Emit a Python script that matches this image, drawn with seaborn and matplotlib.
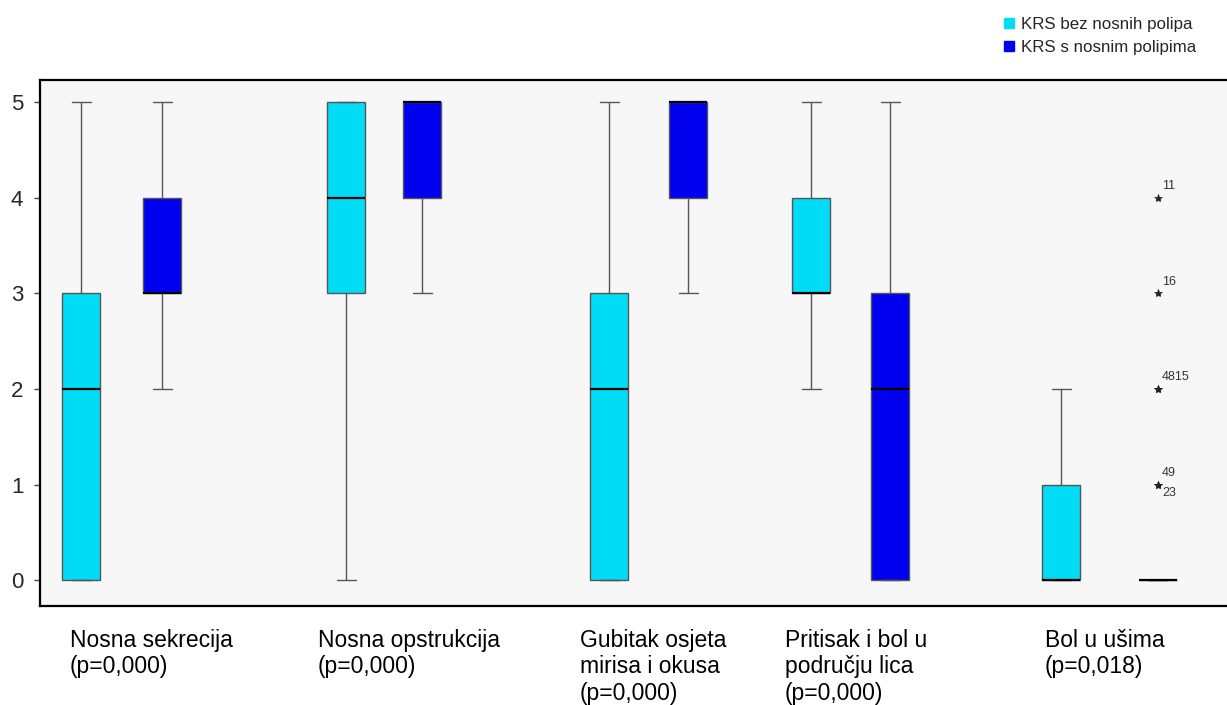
import numpy as np
import pandas as pd
import matplotlib
matplotlib.use("Agg")
import matplotlib.pyplot as plt
import matplotlib.transforms as mtransforms
from matplotlib.lines import Line2D
import seaborn as sns

# ---------------- data ----------------
categories = ["Nosna sekrecija\n(p=0,000)",
              "Nosna opstrukcija\n(p=0,000)",
              "Gubitak osjeta\nmirisa i okusa\n(p=0,000)",
              "Pritisak i bol u\npodručju lica\n(p=0,000)",
              "Bol u ušima\n(p=0,018)"]
groups = ["KRS bez nosnih polipa", "KRS s nosnim polipima"]

sekrecija_bez = [0, 0, 2, 3, 5]
sekrecija_s = [2, 3, 3, 4, 5]
opstrukcija_bez = [0, 3, 4, 5, 5]
opstrukcija_s = [3, 4, 5, 5, 5]
gubitak_bez = [0, 0, 2, 3, 5]
gubitak_s = [3, 4, 5, 5, 5]
pritisak_bez = [2, 3, 3, 4, 5]
pritisak_s = [0, 0, 2, 3, 5]
bol_bez = [0, 0, 0, 1, 2]
bol_s = [0, 0, 0, 0, 0, 0, 0, 0, 0, 0, 0, 0, 0, 0, 0, 0, 0, 0, 0, 0,
         1, 1, 2, 2, 3, 4]
outlier_values = [4, 3, 2, 1]
outlier_labels = ["11", "16", "4815", "49\n23"]
yticks = [0, 1, 2, 3, 4, 5]

series = [(sekrecija_bez, sekrecija_s), (opstrukcija_bez, opstrukcija_s),
          (gubitak_bez, gubitak_s), (pritisak_bez, pritisak_s), (bol_bez, bol_s)]

# ---------------- layout (pixel-like x scale) ----------------
box_pos = [[81, 162], [346, 422], [609, 688], [811, 890], [1061, 1158]]
label_x = [70, 318, 580, 785, 1045]
colors = {groups[0]: "#00DCF6", groups[1]: "#0000EE"}

rows = []
for (b, s), (pb, ps) in zip(series, box_pos):
    for v in b:
        rows.append({"pos": pb, "group": groups[0], "value": v})
    for v in s:
        rows.append({"pos": ps, "group": groups[1], "value": v})
df = pd.DataFrame(rows)

sns.set_style("ticks")
plt.rcParams['font.family'] = ['Liberation Sans', 'DejaVu Sans']

W, H = 1227, 705
fig = plt.figure(figsize=(W / 100, H / 100), dpi=100)
ax = fig.add_axes([40 / W, 1 - 606 / H, (1232 - 40) / W, (606 - 80) / H])
ax.set_facecolor("#F7F7F7")

sns.boxplot(data=df, x="pos", y="value", hue="group", native_scale=True,
            dodge=False, width=0.5, palette=colors, saturation=1,
            linecolor="#555555", linewidth=1.0, whis=1.5, legend=False,
            medianprops={"color": "black", "linewidth": 1.6},
            flierprops={"marker": "*", "markersize": 6,
                        "markerfacecolor": "#222222", "markeredgecolor": "#222222",
                        "markeredgewidth": 0.5},
            ax=ax)

# outlier labels
fx = box_pos[4][1]
for v, lab in zip(outlier_values, outlier_labels):
    if "\n" in lab:
        top, bot = lab.split("\n")
        ax.annotate(top, (fx, v), xytext=(3, 4), textcoords="offset points",
                    fontsize=9, color="#333333", ha="left", va="bottom")
        ax.annotate(bot, (fx, v), xytext=(3, -2), textcoords="offset points",
                    fontsize=9, color="#333333", ha="left", va="top")
    else:
        ax.annotate(lab, (fx, v), xytext=(3, 4), textcoords="offset points",
                    fontsize=9, color="#333333", ha="left", va="bottom")

ax.set_xlim(40, 1232)
ax.set_ylim(-0.27, 5.23)
ax.set_yticks(yticks)
ax.set_yticklabels([str(t) for t in yticks], fontsize=16)
ax.set_xticks([])
ax.set_xlabel("")
ax.set_ylabel("")
ax.tick_params(axis="y", length=4, width=1, color="#444444", pad=8)
for sp in ax.spines.values():
    sp.set_visible(True)
    sp.set_color("black")
    sp.set_linewidth(1.6)

# category labels below axis
trans = mtransforms.blended_transform_factory(ax.transData, ax.transAxes)
for x, lab in zip(label_x, categories):
    ax.text(x, -0.043, lab, transform=trans, ha="left", va="top",
            fontsize=16.5, linespacing=1.2, color="black")

# legend
handles = [Line2D([0], [0], marker="s", linestyle="none", markersize=6.5,
                  markerfacecolor=colors[g], markeredgecolor=colors[g]) for g in groups]
fig.legend(handles, groups, loc="upper left", bbox_to_anchor=(992 / W, 1 - 10 / H),
           frameon=False, fontsize=12.2, handletextpad=0.1, labelspacing=0.5,
           borderaxespad=0, handlelength=1.2)

fig.savefig("out.png", dpi=100)
